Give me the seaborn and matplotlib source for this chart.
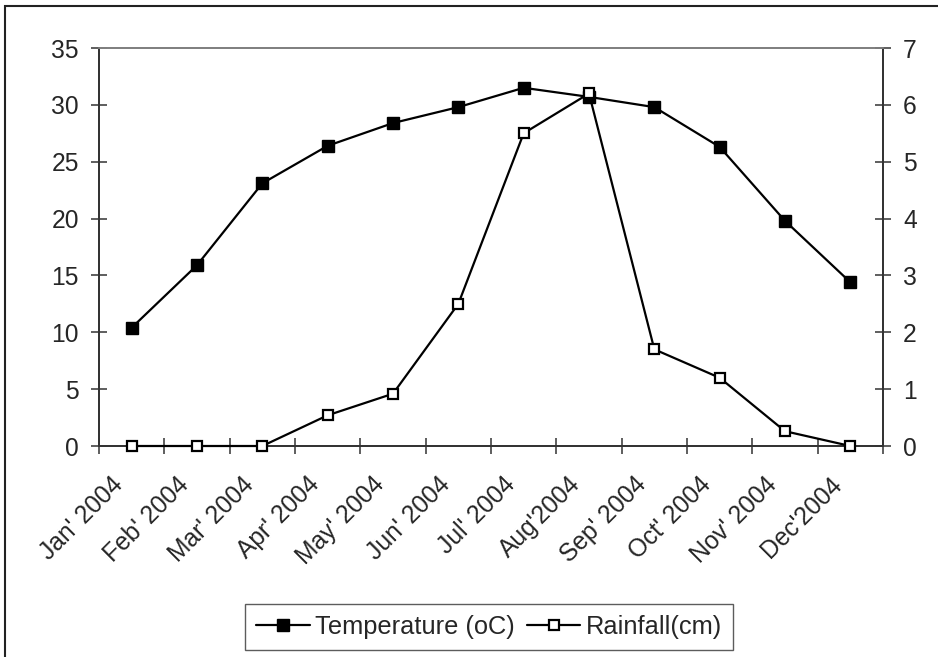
import numpy as np
import pandas as pd
import matplotlib
matplotlib.use("Agg")
import matplotlib.pyplot as plt
from matplotlib.transforms import ScaledTranslation
from matplotlib.patches import Rectangle
import seaborn as sns

# Monthly climate record, 2004
months = ["Jan' 2004", "Feb' 2004", "Mar' 2004", "Apr' 2004", "May' 2004",
          "Jun' 2004", "Jul' 2004", "Aug'2004", "Sep' 2004", "Oct' 2004",
          "Nov' 2004", "Dec'2004"]
temperature = [10.4, 15.9, 23.1, 26.4, 28.4, 29.8, 31.5, 30.7, 29.8, 26.3, 19.8, 14.4]
rainfall = [0.0, 0.0, 0.0, 0.54, 0.92, 2.5, 5.5, 6.2, 1.7, 1.2, 0.26, 0.0]
temp_ticks = [0, 5, 10, 15, 20, 25, 30, 35]
rain_ticks = [0, 1, 2, 3, 4, 5, 6, 7]

df = pd.DataFrame({"pos": np.arange(len(months)), "month": months,
                   "Temperature (oC)": temperature, "Rainfall(cm)": rainfall})

sns.set_style("white")
plt.rcParams["font.family"] = ["Liberation Sans", "DejaVu Sans"]
FS = 17.7
LEG_FS = 18.3

fig = plt.figure(figsize=(9.38, 6.57), dpi=100)
ax = fig.add_axes([99 / 938, 1 - 446 / 657, 784 / 938, 398 / 657])
ax2 = ax.twinx()

sns.lineplot(data=df, x="pos", y="Temperature (oC)", ax=ax, color="black",
             linewidth=1.6, marker="s", markersize=8, markerfacecolor="black",
             markeredgecolor="black", markeredgewidth=1, legend=False,
             clip_on=False, zorder=3)
sns.lineplot(data=df, x="pos", y="Rainfall(cm)", ax=ax2, color="black",
             linewidth=1.6, marker="s", markersize=7, markerfacecolor="white",
             markeredgecolor="black", markeredgewidth=1.6, legend=False,
             clip_on=False, zorder=3)

n = len(months)
ax.set_xlim(-0.5, n - 0.5)
ax.set_ylim(0, 35)
ax2.set_ylim(0, 7)
ax.set_yticks(temp_ticks)
ax2.set_yticks(rain_ticks)
ax.set_ylabel("")
ax2.set_ylabel("")
ax.set_xlabel("")

# category boundaries carry tick marks, category centres carry the labels
ax.set_xticks(np.arange(-0.5, n, 1.0))
ax.set_xticklabels([])
ax.set_xticks(np.arange(n), minor=True)
ax.set_xticklabels(months, minor=True, rotation=45, ha="right", va="center",
                   rotation_mode="anchor", fontsize=FS)
ax.tick_params(axis="x", which="major", direction="inout", length=11,
               width=1.1, color="#333333", bottom=True)
ax.tick_params(axis="x", which="minor", length=0, pad=25)
for lbl in ax.get_xticklabels(minor=True):
    lbl.set_transform(lbl.get_transform() +
                      ScaledTranslation(-12 / 100, 0, fig.dpi_scale_trans))

ax.tick_params(axis="y", direction="inout", length=11, width=1.1,
               color="#333333", labelsize=FS, pad=9, left=True)
ax2.tick_params(axis="y", direction="inout", length=11, width=1.1,
                color="#333333", labelsize=FS, pad=9, right=True)

for a in (ax, ax2):
    for side in ("left", "right", "bottom"):
        a.spines[side].set_color("#333333")
        a.spines[side].set_linewidth(1.3)
    a.spines["top"].set_color("#808080")
    a.spines["top"].set_linewidth(1.3)
    a.grid(False)

h1 = ax.get_lines()[0]
h2 = ax2.get_lines()[0]
leg = fig.legend([h1, h2], ["Temperature (oC)", "Rainfall(cm)"], loc="center",
                 bbox_to_anchor=(489 / 938, 1 - 627 / 657), ncol=2,
                 fontsize=LEG_FS, frameon=True, fancybox=False,
                 handlelength=2.1, handletextpad=0.2, columnspacing=0.5,
                 borderpad=0.45, borderaxespad=0)
leg.get_frame().set_edgecolor("#333333")
leg.get_frame().set_linewidth(1.0)

# outer chart border
fig.patches.append(Rectangle((5 / 938, -0.02), 1.0, 1 - 6 / 657 + 0.02,
                             transform=fig.transFigure, fill=False,
                             edgecolor="#222222", linewidth=1.5))

fig.savefig("out.png", dpi=100)
